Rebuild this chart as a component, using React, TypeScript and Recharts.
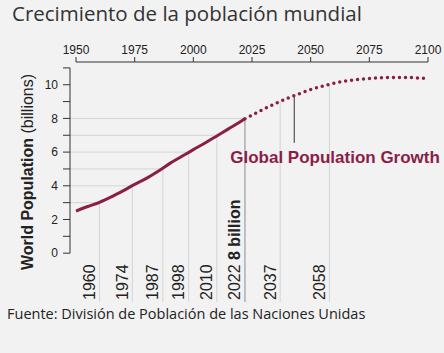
import React from "react";
import { ComposedChart, Line, XAxis, YAxis, ReferenceLine } from "recharts";

// historical estimates (billions)
const histYears = [1950, 1955, 1960, 1965, 1970, 1975, 1980, 1985, 1990, 1995, 2000, 2005, 2010, 2015, 2020, 2022];
const histPop = [2.5, 2.77, 3.02, 3.34, 3.7, 4.08, 4.44, 4.86, 5.33, 5.74, 6.15, 6.54, 6.96, 7.38, 7.8, 7.98];

// UN projection (billions)
const projYears = [2022, 2025, 2030, 2035, 2040, 2045, 2050, 2055, 2060, 2065, 2070, 2075, 2080, 2085, 2090, 2095, 2100];
const projPop = [7.98, 8.19, 8.55, 8.88, 9.19, 9.46, 9.71, 9.92, 10.09, 10.22, 10.31, 10.37, 10.41, 10.43, 10.43, 10.41, 10.36];

// each extra billion
const milestoneYears = [1960, 1974, 1987, 1998, 2010, 2022, 2037, 2058];
const milestoneValues = [3, 4, 5, 6, 7, 8, 9, 10];

const xTicks = [1950, 1975, 2000, 2025, 2050, 2075, 2100];
const yTicks = [0, 1, 2, 3, 4, 5, 6, 7, 8, 9, 10, 11];

const annotationYear = 2043;
const annotationTop = 9.36;
const annotationBottom = 6.55;

const X_MIN = 1947.44;
const Y_MIN = -2.9;
const Y_MAX = 11.35;

const MAROON = "#8b1e48";
const FONT = "Arial, 'Liberation Sans', sans-serif";

const allYears = Array.from(new Set([...histYears, ...projYears])).sort((a, b) => a - b);
const data = allYears.map((year) => {
  const hi = histYears.indexOf(year);
  const pi = projYears.indexOf(year);
  return {
    year,
    hist: hi >= 0 ? histPop[hi] : undefined,
    proj: pi >= 0 ? projPop[pi] : undefined,
  };
});

const YearLabel = (year: number) => (props: any) => {
  const vb = props.viewBox || {};
  const x = vb.x - 4.5;
  const y = vb.y + vb.height - 2;
  return (
    <text
      x={x}
      y={y}
      transform={`rotate(-90, ${x}, ${y})`}
      textAnchor="start"
      fontSize={16}
      fontFamily={FONT}
      fill="#222"
    >
      {year}
      {year === 2022 && <tspan fontWeight="bold"> 8 billion</tspan>}
    </text>
  );
};

const AxisTitle = () => (
  <text
    x={33}
    y={172}
    transform="rotate(-90, 33, 172)"
    textAnchor="middle"
    fontSize={16}
    fontFamily={FONT}
    fill="#222"
  >
    <tspan fontWeight="bold">World Population </tspan>
    <tspan>(billions)</tspan>
  </text>
);

const GrowthLabel = (props: any) => {
  const vb = props.viewBox || {};
  return (
    <text x={vb.x - 64} y={vb.y + vb.height + 20} fontSize={17} fontWeight="bold" fontFamily={FONT} fill={MAROON}>
      Global Population Growth
    </text>
  );
};

export default function App() {
  return (
    <div style={{ position: "absolute", left: 0, top: 0, width: 444, height: 353, background: "#f2f2f2", overflow: "hidden" }}>
      <div
        style={{
          position: "absolute",
          left: 12,
          top: 3,
          fontFamily: "'Open Sans', sans-serif",
          fontSize: 20.5,
          lineHeight: "20.5px",
          color: "#333",
          whiteSpace: "nowrap",
        }}
      >
        Crecimiento de la población mundial
      </div>
      <div style={{ position: "absolute", left: 0, top: 0 }}>
        <ComposedChart width={444} height={353} data={data} margin={{ top: 32, right: 16, bottom: 51, left: 30 }}>
          <XAxis
            dataKey="year"
            type="number"
            orientation="top"
            domain={[X_MIN, 2100]}
            ticks={xTicks}
            height={30}
            axisLine={false}
            tickSize={5}
            tickMargin={3}
            tickLine={{ stroke: "#333" }}
            tick={{ fontSize: 12, fontFamily: FONT, fill: "#222" }}
            allowDataOverflow
          />
          <YAxis
            type="number"
            domain={[Y_MIN, Y_MAX]}
            ticks={yTicks}
            width={40}
            axisLine={false}
            tickSize={7}
            tickMargin={5}
            tickLine={{ stroke: "#333" }}
            tick={{ fontSize: 12, fontFamily: FONT, fill: "#222" }}
            tickFormatter={(v) => (v % 2 === 0 && v <= 10 ? `${v}` : "")}
            allowDataOverflow
            label={<AxisTitle />}
          />

          {milestoneYears.map((yr, i) =>
            milestoneValues[i] <= 8 ? (
              <ReferenceLine
                key={`h${yr}`}
                segment={[
                  { x: X_MIN, y: milestoneValues[i] },
                  { x: yr, y: milestoneValues[i] },
                ]}
                stroke="#d4d4d4"
                strokeWidth={1}
                ifOverflow="visible"
              />
            ) : null
          )}
          {milestoneYears.map((yr, i) => (
            <ReferenceLine
              key={`v${yr}`}
              segment={[
                { x: yr, y: milestoneValues[i] },
                { x: yr, y: Y_MIN },
              ]}
              stroke={yr === 2022 ? "#8c8c8c" : "#d4d4d4"}
              strokeWidth={1}
              ifOverflow="visible"
              label={YearLabel(yr)}
            />
          ))}

          <ReferenceLine
            segment={[
              { x: 1950, y: Y_MAX },
              { x: 2100, y: Y_MAX },
            ]}
            stroke="#333"
            ifOverflow="visible"
          />
          <ReferenceLine
            segment={[
              { x: X_MIN, y: 0 },
              { x: X_MIN, y: 11 },
            ]}
            stroke="#333"
            ifOverflow="visible"
          />
          <ReferenceLine
            segment={[
              { x: annotationYear, y: annotationTop },
              { x: annotationYear, y: annotationBottom },
            ]}
            stroke="#333"
            ifOverflow="visible"
            label={GrowthLabel}
          />

          <Line
            dataKey="hist"
            type="monotone"
            stroke={MAROON}
            strokeWidth={3}
            dot={false}
            isAnimationActive={false}
          />
          <Line
            dataKey="proj"
            type="monotone"
            stroke={MAROON}
            strokeWidth={3.5}
            strokeDasharray="0 6"
            strokeLinecap="round"
            dot={false}
            isAnimationActive={false}
          />
        </ComposedChart>
      </div>
      <div
        style={{
          position: "absolute",
          left: 7,
          top: 306.5,
          fontFamily: "'Open Sans', sans-serif",
          fontSize: 14.5,
          lineHeight: "14.5px",
          color: "#222",
          whiteSpace: "nowrap",
        }}
      >
        Fuente: División de Población de las Naciones Unidas
      </div>
    </div>
  );
}
